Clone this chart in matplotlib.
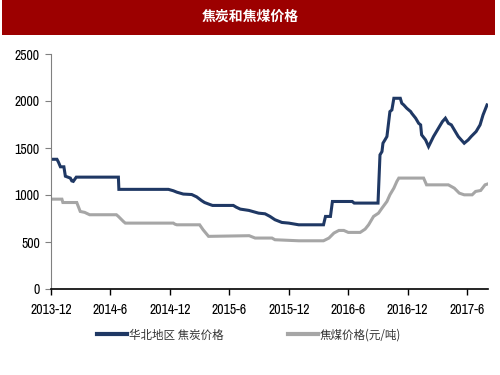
import matplotlib
matplotlib.use("Agg")
import matplotlib.pyplot as plt
from matplotlib import font_manager
from matplotlib.patches import Rectangle

names = {f.name for f in font_manager.fontManager.ttflist}
num_font = "DejaVu Sans"
for cand in ["Archivo Narrow", "PT Sans Narrow", "Liberation Sans Narrow"]:
    if cand in names:
        num_font = cand
        break
cjk = ["Noto Sans CJK SC", "DejaVu Sans"]

title = "焦炭和焦煤价格"
series_names = ["华北地区 焦炭价格", "焦煤价格(元/吨)"]
tick_labels = ["2013-12", "2014-6", "2014-12", "2015-6", "2015-12", "2016-6", "2016-12", "2017-6"]

# months since 2013-12
coke_t = [0, 0.6, 0.75, 0.95, 1.3, 1.45, 1.95, 2.1, 2.25, 2.55, 6.8, 6.85, 11.85, 12.35, 12.7, 13.35,
          14.2, 14.7, 15.2, 15.5, 16.0, 16.3, 18.4, 18.7, 19.1, 19.97, 20.95, 21.6, 22.1, 22.6, 23.3,
          24, 25, 27.5, 27.7, 28.2, 28.4, 30.4, 30.6, 33.0, 33.2, 33.4, 33.5, 33.7, 33.9, 34.0, 34.2,
          34.4, 34.6, 35.25, 35.4, 35.6, 35.9, 36.3, 36.4, 36.8, 37.1, 37.3, 37.4, 37.8, 38.1, 38.6,
          38.9, 39.3, 39.5, 39.8, 40.1, 40.4, 40.8, 41.1, 41.4, 41.7, 42.1, 42.4, 42.9, 43.3, 43.6, 44]
coke_v = [1380, 1380, 1350, 1300, 1300, 1200, 1180, 1150, 1145, 1190, 1190, 1060, 1060, 1045, 1030, 1010,
          1005, 980, 940, 920, 900, 889, 889, 870, 850, 836, 807, 800, 772, 737, 708,
          701, 683, 683, 772, 772, 931, 931, 914, 914, 1427, 1462, 1551, 1586, 1622, 1710, 1887,
          1905, 2029, 2029, 1976, 1958, 1923, 1887, 1870, 1817, 1763, 1746, 1640, 1586, 1515, 1622,
          1675, 1746, 1781, 1817, 1763, 1746, 1675, 1622, 1586, 1551, 1586, 1622, 1675, 1746, 1852, 1958]

coal_t = [0, 1.1, 1.2, 2.6, 2.95, 3.4, 3.9, 6.6, 6.8, 7.3, 7.5, 12.35, 12.5, 12.7, 15.0, 15.35, 15.9,
          20, 20.6, 22.3, 22.6, 25, 27.5, 28.05, 28.55, 29.05, 29.55, 30.0, 31.2, 31.7, 32.05, 32.55,
          33.05, 33.4, 33.9, 34.2, 34.6, 34.9, 35.1, 37.6, 37.9, 40.1, 40.7, 41.2, 41.7, 42.5, 42.85,
          43.36, 43.8, 44]
coal_v = [956, 956, 920, 920, 825, 815, 790, 790, 772, 719, 701, 701, 690, 683, 683, 630, 560,
          567, 542, 542, 524, 513, 513, 542, 595, 623, 623, 602, 602, 637, 683, 772,
          807, 860, 931, 1002, 1073, 1144, 1180, 1180, 1108, 1108, 1073, 1020, 1002, 1002, 1038,
          1048, 1108, 1115]

fig = plt.figure(figsize=(5, 3.75), dpi=100)
fig.patch.set_facecolor("white")

# title bar
fig.patches.append(Rectangle((2/500, 1-35/375), 493/500, 35/375, transform=fig.transFigure,
                             facecolor="#9C0000", edgecolor="none", zorder=0))
fig.text(0.5, 1-17/375, title, color="white", fontsize=10, fontweight="bold",
         family=cjk, ha="center", va="center")

ax = fig.add_axes([51/500, 1-289/375, (488-51)/500, (289-54)/375])
l1, = ax.plot(coke_t, coke_v, color="#1F3864", lw=2.2, solid_joinstyle="miter")
l2, = ax.plot(coal_t, coal_v, color="#A6A6A6", lw=2.2, solid_joinstyle="miter")

ax.set_xlim(0, 44.1)
ax.set_ylim(0, 2500)
ax.set_yticks([0, 500, 1000, 1500, 2000, 2500])
ax.set_xticks(list(range(0, 48, 6)))
ax.set_xticklabels(tick_labels)
for s in ["top", "right"]:
    ax.spines[s].set_visible(False)
ax.spines["left"].set_color("#808080")
ax.spines["left"].set_linewidth(0.8)
ax.spines["bottom"].set_color("black")
ax.spines["bottom"].set_linewidth(1.2)
ax.tick_params(axis="x", direction="out", length=4, width=1, color="black", pad=6)
ax.tick_params(axis="y", direction="out", length=4, width=0.8, color="#808080", pad=4)
for lab in ax.get_xticklabels() + ax.get_yticklabels():
    lab.set_fontfamily(num_font)
    lab.set_fontsize(10)
    lab.set_color("black")

leg = fig.legend([l1, l2], series_names, loc="center", bbox_to_anchor=(0.498, 1-335/375),
                 ncol=2, frameon=False, handlelength=2.6, columnspacing=5.6, handletextpad=0.15,
                 prop={"family": cjk, "size": 8.3})
for t in leg.get_texts():
    t.set_color("#333333")
for h in leg.get_lines():
    h.set_linewidth(3)

fig.savefig("out.png", dpi=100)
